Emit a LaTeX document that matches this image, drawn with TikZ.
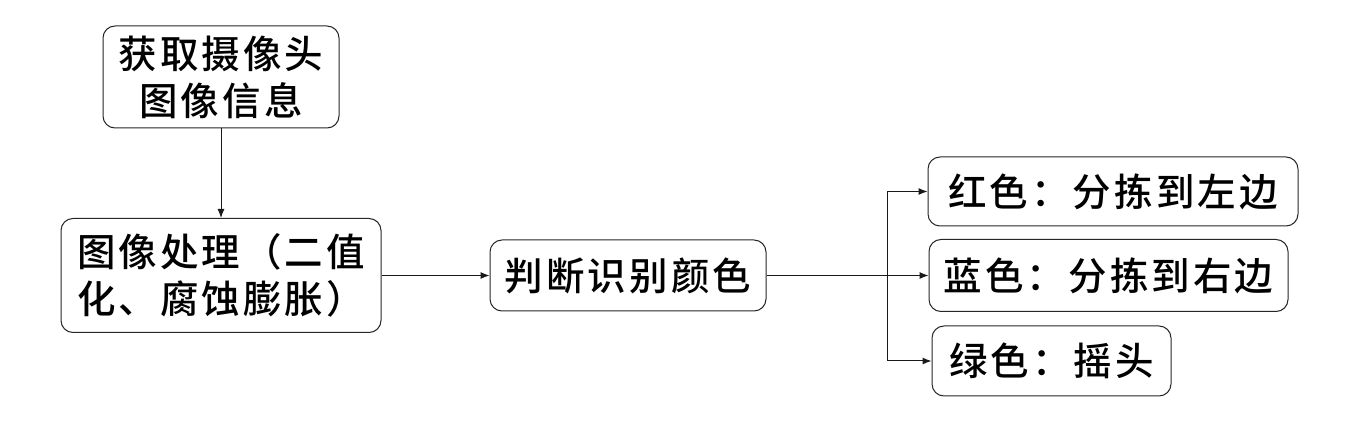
\documentclass[tikz,border=0pt]{standalone}
\usepackage{fontspec}
\usetikzlibrary{arrows.meta}
\newfontfamily\cjk[LetterSpace=8,UprightFont=* Medium]{Noto Sans CJK SC}
\begin{document}
\begin{tikzpicture}[x=1pt,y=-1pt,
  box/.style={draw=black!85, line width=1pt, rounded corners=12pt, align=center, inner sep=0pt,
    font=\cjk\fontsize{38.5}{47}\selectfont},
  conn/.style={line width=1pt, draw=black!90, -{Latex[length=9pt,width=7pt]}},
  line/.style={line width=1pt, draw=black!90}]
\useasboundingbox (0,0) rectangle (1369,438);
\node[box, minimum width=236pt, minimum height=102pt] (a) at (221,77) {获取摄像头\\图像信息};
\node[box, minimum width=320pt, minimum height=114pt] (b) at (221,275.5) {图像处理（二值\\化、腐蚀膨胀）};
\node[box, minimum width=276pt, minimum height=71pt] (c) at (628,275.5) {判断识别颜色};
\node[box, minimum width=370pt, minimum height=69pt] (r) at (1113,191.5) {红色：分拣到左边};
\node[box, minimum width=359pt, minimum height=72pt] (u) at (1108.5,275.5) {蓝色：分拣到右边};
\node[box, minimum width=239pt, minimum height=70pt] (g) at (1051.5,361) {绿色：摇头};
\coordinate (br) at (887,275.5);
\draw[conn] (a) -- (b);
\draw[conn] (b) -- (c);
\draw[line] (c) -- (br);
\draw[conn] (br) |- (r);
\draw[conn] (br) -- (u);
\draw[conn] (br) |- (g);
\end{tikzpicture}
\end{document}
